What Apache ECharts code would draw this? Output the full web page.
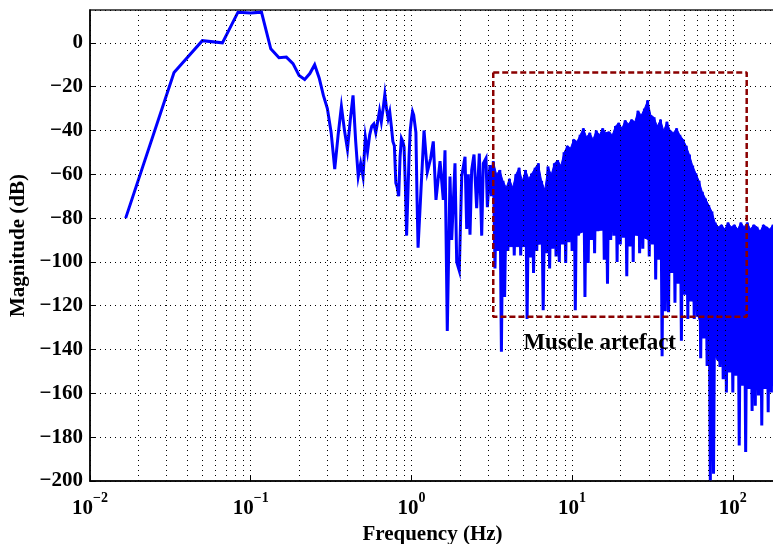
<!DOCTYPE html>
<html><head><meta charset="utf-8">
<script src="https://cdn.jsdelivr.net/npm/echarts@6/dist/echarts.min.js"></script>
<style>html,body{margin:0;padding:0;background:#fff}#c{width:773px;height:544px}</style>
</head><body><div id="c"></div>
<script>
// Low-frequency part (bins of 1/60 Hz)
const freqLow = [0.01667,0.03333,0.05,0.06667,0.08333,0.1,0.1167,0.1333,0.15,0.1667,0.1833,0.2,0.2167,0.2333,0.25,0.2667,0.2833,0.3,0.3167,0.3333,0.35,0.3667,0.3833,0.4,0.4167,0.4333,0.45,0.4667,0.4833,0.5,0.5167,0.5333,0.55,0.5667,0.5833,0.6,0.6167,0.6333,0.65,0.6667,0.6833,0.7,0.7167,0.7333,0.75,0.7667,0.7833,0.8,0.8167,0.8333,0.85,0.8667,0.8833,0.9,0.9167,0.9333,0.95,0.9667,0.9833,1.0,1.0167,1.0333,1.05,1.0667,1.0833,1.1];
const magLow = [-80,-13.5,1,0,14,13.6,14,-2.7,-6.8,-6.5,-9.5,-14.9,-16.7,-14,-10,-16,-24,-30,-41,-57.6,-42,-29,-40,-48.6,-35,-24,-45,-61,-55,-61,-43,-49.7,-42,-38,-37,-41,-36,-31,-36,-30,-23.5,-30,-34.5,-31.5,-38,-45,-47,-64,-66,-70,-52,-43.6,-45,-47.5,-65,-88,-70,-52,-40,-35,-31.5,-33,-37,-41,-70,-93.5];
// Middle part (1.1 - 3.2 Hz)
const freqMid = [1.198,1.256,1.318,1.368,1.422,1.507,1.579,1.618,1.672,1.738,1.781,1.867,1.913,1.986,2.056,2.156,2.208,2.260,2.315,2.372,2.452,2.547,2.646,2.738,2.802,2.911,2.97,3.083,3.15];
const magMid = [-40,-59,-52.7,-45,-71.7,-54,-71.7,-49,-131.5,-61,-90,-55,-100,-104,-61,-52,-85,-60,-87.6,-58,-51,-75.5,-50.5,-88,-55,-52.7,-75,-55.8,-70];
// Dense part (3.2 - 182 Hz): alternating local maxima / minima
const freqHigh = [3.236,3.311,3.388,3.467,3.548,3.631,3.715,3.802,3.890,3.981,4.074,4.169,4.266,4.365,4.467,4.571,4.677,4.786,4.898,5.012,5.129,5.248,5.370,5.495,5.623,5.754,5.888,6.026,6.166,6.310,6.457,6.607,6.761,6.918,7.079,7.244,7.413,7.586,7.762,7.943,8.128,8.318,8.511,8.710,8.913,9.120,9.333,9.550,9.772,10.00,10.23,10.47,10.72,10.96,11.22,11.48,11.75,12.02,12.30,12.59,12.88,13.18,13.49,13.80,14.13,14.45,14.79,15.14,15.49,15.85,16.22,16.60,16.98,17.38,17.78,18.20,18.62,19.05,19.50,19.95,20.42,20.89,21.38,21.88,22.39,22.91,23.44,23.99,24.55,25.12,25.70,26.30,26.92,27.54,28.18,28.84,29.51,30.20,30.90,31.62,32.36,33.11,33.88,34.67,35.48,36.31,37.15,38.02,38.90,39.81,40.74,41.69,42.66,43.65,44.67,45.71,46.77,47.86,48.98,50.12,51.29,52.48,53.70,54.95,56.23,57.54,58.88,60.26,61.66,63.10,64.57,66.07,67.61,69.18,70.79,72.44,74.13,75.86,77.62,79.43,81.28,83.18,85.11,87.10,89.13,91.20,93.33,95.50,97.72,100.0,102.3,104.7,107.2,109.6,112.2,114.8,117.5,120.2,123.0,125.9,128.8,131.8,134.9,138.0,141.3,144.5,147.9,151.4,154.9,158.5,162.2,166.0,169.8,173.8,177.8,182.0];
const magHigh = [-54,-103,-60,-95,-58,-141,-63,-116,-66,-95,-62,-92,-66,-97,-60,-90,-57,-97,-63,-93,-58,-126,-62,-98,-59.5,-105,-57,-95,-55,-92,-63,-122,-67,-96,-56.5,-103,-60,-94,-55,-97.5,-53.5,-100,-56,-92,-50,-100.5,-47,-91,-48,-95,-44,-122,-45,-88,-42,-80,-39,-116,-43,-100.5,-41,-90,-44,-96,-40,-86,-42,-78,-39,-99,-41,-110,-40.6,-90,-42,-88,-38,-100,-36.5,-92,-39,-89,-35.3,-106.5,-37,-93,-35,-100,-36,-88,-31,-96,-33,-94,-30,-87,-26.2,-97.5,-33,-92,-34,-108,-38,-99,-35,-143,-40,-122.5,-36,-123,-40,-105,-41,-118.6,-39,-110,-42,-136,-44,-115,-47,-126,-51,-118,-56,-126,-59.5,-125,-63,-144,-68,-135,-71,-147.5,-74,-199.7,-77,-196.7,-82,-141,-84,-148,-83,-153.5,-85,-159.6,-82,-150.5,-84,-159.6,-83,-152,-85,-183.8,-82,-156.5,-84,-186.8,-82,-158,-85,-168,-83,-165.6,-84,-161,-86,-174.7,-83,-158,-84,-168.6,-85,-159.6,-83,-163];
// Lower edge of the solid (densely filled) part of the dense spectrum
const floorFreq = [3.24, 5, 8.7, 12, 20, 26, 35, 47, 55, 64, 72, 80, 100, 182];
const floorMag = [-93, -93, -90, -86, -85, -88, -92, -104, -115, -130, -138, -145, -148, -150];
// Annotation box (muscle artefact region)
const boxFreq = [3.23, 122];
const boxMag = [-13.5, -125];
const annotation = 'Muscle artefact';
const annotationAt = [4.94, -137];
// Axes
const xMin = 0.01, xMax = 183;
const yMin = -200, yMax = 15, yStep = 20;
const decades = [0.01, 0.1, 1, 10, 100];
const minorMultipliers = [2,3,4,5,6,7,8,9];

const freq = freqLow.concat(freqMid, freqHigh);
const mag = magLow.concat(magMid, magHigh);
const spectrum = freq.map((f, i) => [f, mag[i]]);
const bodyTop = freqHigh.map((f, i) => [f, magHigh[i]]).filter((p, i) => i % 2 === 0);
const bodyFloor = floorFreq.map((f, i) => [f, floorMag[i]]);
const box = [[boxFreq[0], boxMag[0]], [boxFreq[1], boxMag[0]], [boxFreq[1], boxMag[1]], [boxFreq[0], boxMag[1]], [boxFreq[0], boxMag[0]]];
const minorGrid = [];
decades.forEach(d => minorMultipliers.forEach(m => { const v = d * m; if (v < xMax) minorGrid.push({ xAxis: v }); }));

const FONT = 'Liberation Serif';
const BLUE = '#0000ff';
const dotted = { color: '#000', type: [1, 4], width: 1 };
const chart = echarts.init(document.getElementById('c'), null, { renderer: 'canvas' });
chart.setOption({
  animation: false,
  backgroundColor: '#fff',
  grid: { left: 90, top: 10, right: -2, bottom: 63, outerBoundsMode: 'none', containLabel: false, show: true, borderColor: '#222', borderWidth: 1.5, backgroundColor: 'transparent' },
  xAxis: {
    type: 'log', logBase: 10, min: xMin, max: xMax,
    name: 'Frequency (Hz)', nameLocation: 'middle', nameGap: 33,
    nameTextStyle: { fontFamily: FONT, fontWeight: 'bold', fontSize: 21, color: '#000', verticalAlign: 'top' },
    axisLine: { show: true, onZero: false, lineStyle: { color: '#000', width: 1.5 } },
    axisTick: { show: true, inside: true, length: 6, lineStyle: { color: '#000' } },
    splitLine: { show: true, lineStyle: dotted },
    axisLabel: {
      margin: 10, showMaxLabel: false,
      formatter: v => { const l = Math.log10(v); const e = Math.round(l); if (Math.abs(l - e) > 1e-6) return ''; return '{b|10}{s|' + (e < 0 ? '\u2212' + (-e) : e) + '}'; },
      rich: {
        b: { fontFamily: FONT, fontWeight: 'bold', fontSize: 21, color: '#000', lineHeight: 28, verticalAlign: 'bottom' },
        s: { fontFamily: FONT, fontWeight: 'bold', fontSize: 14, color: '#000', lineHeight: 28, verticalAlign: 'top' }
      }
    }
  },
  yAxis: {
    type: 'value', min: yMin, max: yMax, interval: yStep,
    name: 'Magnitude (dB)', nameLocation: 'middle', nameGap: 58,
    nameTextStyle: { fontFamily: FONT, fontWeight: 'bold', fontSize: 21, color: '#000' },
    axisLine: { show: true, lineStyle: { color: '#000', width: 1.5 } },
    axisTick: { show: true, inside: true, length: 6, lineStyle: { color: '#000' } },
    splitLine: { show: true, lineStyle: dotted },
    axisLabel: {
      margin: 7, showMaxLabel: false,
      fontFamily: FONT, fontWeight: 'bold', fontSize: 21, color: '#000',
      formatter: v => (v % yStep === 0 && v <= 0) ? String(v).replace('-', '\u2212') : ''
    }
  },
  series: [
    {
      type: 'line', data: [], z: 1, silent: true,
      markLine: { silent: true, symbol: 'none', label: { show: false }, lineStyle: dotted, data: minorGrid, animation: false }
    },
    {
      type: 'custom', z: 2, silent: true, clip: true,
      data: [bodyTop[0]],
      renderItem: (params, api) => {
        const pts = bodyTop.map(p => api.coord(p)).concat(bodyFloor.slice().reverse().map(p => api.coord(p)));
        return { type: 'polygon', shape: { points: pts }, style: { fill: BLUE, stroke: BLUE, lineWidth: 1 } };
      }
    },
    {
      type: 'line', data: spectrum, z: 3, showSymbol: false, symbol: 'none',
      lineStyle: { color: BLUE, width: 3, join: 'miter' }
    },
    {
      type: 'line', data: box, z: 5, showSymbol: false, symbol: 'none',
      lineStyle: { color: '#8b0000', width: 2.5, type: [6, 3] },
      markPoint: {
        symbol: 'rect', symbolSize: 1, itemStyle: { color: 'rgba(0,0,0,0)' },
        label: { show: true, position: 'right', distance: 0, formatter: annotation, fontFamily: FONT, fontWeight: 'bold', fontSize: 23, color: '#000' },
        data: [{ coord: annotationAt }]
      }
    }
  ]
});
</script></body></html>
